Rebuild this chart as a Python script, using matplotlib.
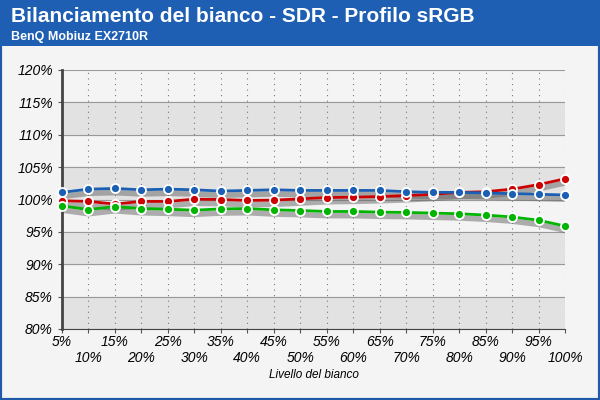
import matplotlib
matplotlib.use("Agg")
import matplotlib.pyplot as plt
import matplotlib.transforms as mtransforms

plt.rcParams["font.family"] = ["Liberation Sans", "DejaVu Sans"]

levels = list(range(5, 101, 5))
blue = [101.1, 101.6, 101.7, 101.5, 101.6, 101.5, 101.3, 101.4, 101.5, 101.4,
        101.4, 101.4, 101.4, 101.2, 101.1, 101.1, 101.0, 100.9, 100.8, 100.7]
red = [99.8, 99.7, 99.3, 99.7, 99.7, 100.05, 100.0, 99.85, 99.9, 100.1,
       100.3, 100.35, 100.45, 100.6, 100.8, 101.1, 101.2, 101.6, 102.3, 103.2]
green = [99.0, 98.45, 98.9, 98.6, 98.5, 98.35, 98.55, 98.6, 98.4, 98.3,
         98.15, 98.15, 98.05, 98.0, 97.9, 97.8, 97.6, 97.3, 96.8, 95.9]

fig = plt.figure(figsize=(6, 4), dpi=100)
fig.patch.set_facecolor("#f4f4f4")
fig.patches.append(plt.Rectangle((0, 0), 1, 1, transform=fig.transFigure,
                                 fill=False, edgecolor="#1e5aa8", linewidth=3))
fig.patches.append(plt.Rectangle((0, 0.885), 1, 0.115, transform=fig.transFigure,
                                 facecolor="#1e5fb4", edgecolor="none"))
fig.text(0.018, 0.958, "Bilanciamento del bianco - SDR - Profilo sRGB", color="white",
         fontsize=15, fontweight="bold", va="center")
fig.text(0.018, 0.908, "BenQ Mobiuz EX2710R", color="white", fontsize=9,
         fontweight="bold", va="center")

ax = fig.add_axes([62 / 600, 71 / 400, 503 / 600, 259 / 400])
ax.set_facecolor("#f4f4f4")
for lo in range(80, 120, 10):
    ax.axhspan(lo, lo + 5, color="#e2e2e2", zorder=0)
ax.set_xlim(5, 100)
ax.set_ylim(80, 120)
ax.set_yticks(range(80, 121, 5))
ax.set_yticklabels([f"{v}%" for v in range(80, 121, 5)], fontsize=10, fontstyle="italic")
ax.set_xticks(levels)
ax.set_xticklabels([])
for i, v in enumerate(levels):
    ax.text(v, -0.025 if i % 2 == 0 else -0.085, f"{v}%", fontsize=10, fontstyle="italic",
            ha="center", va="top", transform=ax.get_xaxis_transform())
ax.tick_params(length=3, color="#555555")
ax.grid(axis="y", color="#999999", linewidth=0.8)
ax.grid(axis="x", color="#777777", linestyle=(0, (1, 4)), linewidth=0.8)
ax.set_axisbelow(True)
for side in ("top", "right"):
    ax.spines[side].set_visible(False)
ax.spines["left"].set_linewidth(2)
ax.spines["left"].set_color("#444444")
ax.spines["bottom"].set_color("#444444")
ax.set_xlabel("Livello del bianco", fontsize=8.5, fontstyle="italic", labelpad=22)

offset = mtransforms.offset_copy(ax.transData, fig=fig, x=0, y=-3, units="points")
for values in (red, green, blue):
    ax.plot(levels, values, color="#666666", linewidth=4, alpha=0.5, transform=offset,
            zorder=2, solid_capstyle="round")
for values, color in ((red, "#cc0000"), (green, "#00b400"), (blue, "#1a5fb4")):
    ax.plot(levels, values, color=color, linewidth=2, marker="o", markersize=6.5,
            markeredgecolor="white", markeredgewidth=1.3, clip_on=False, zorder=3)

fig.savefig("out.png", dpi=100, facecolor=fig.get_facecolor())
